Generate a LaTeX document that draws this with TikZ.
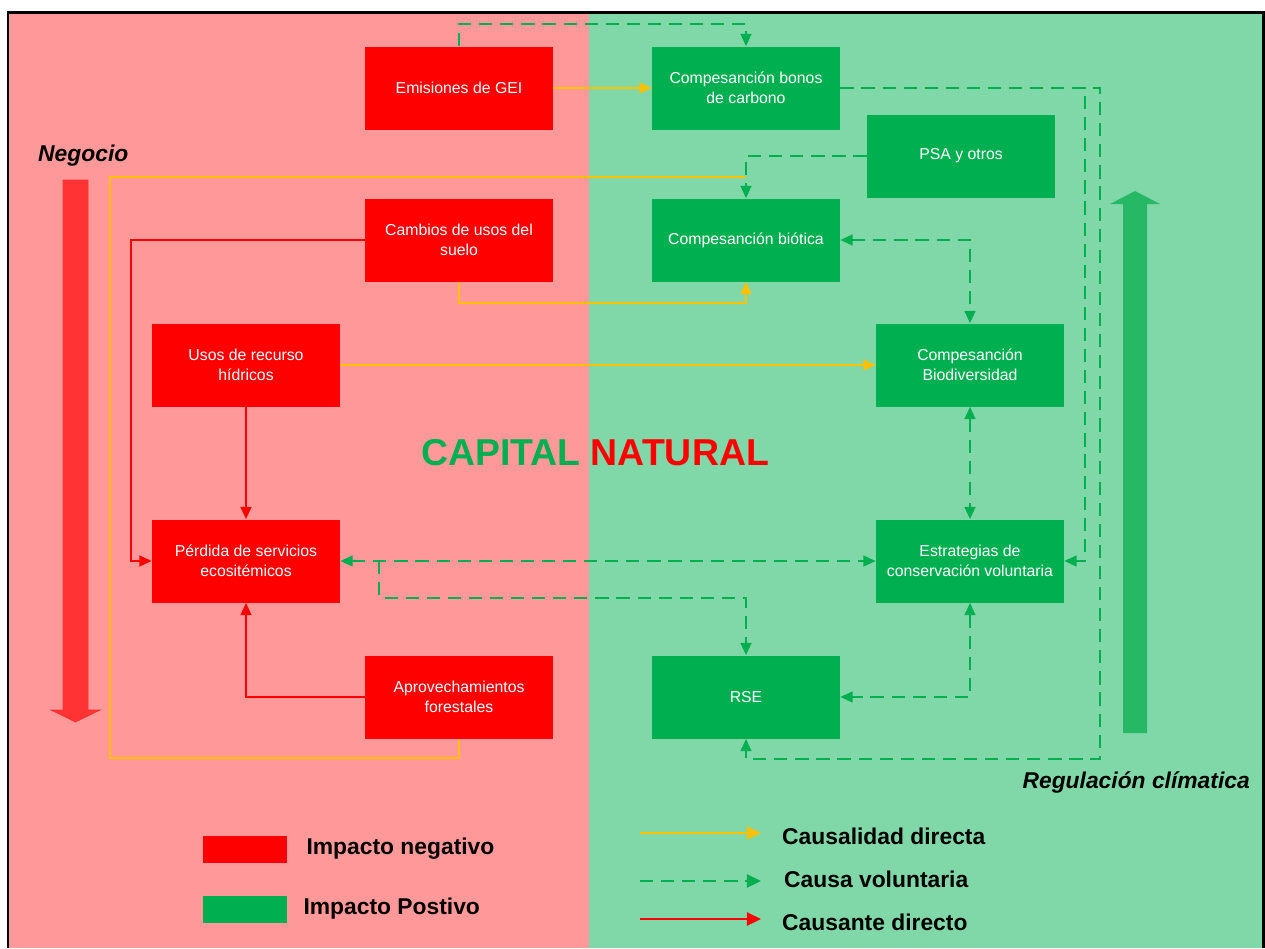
\documentclass[tikz,border=0pt]{standalone}
\usepackage{fontspec}
\setmainfont{Liberation Sans}
\usetikzlibrary{positioning, arrows.meta}

\definecolor{bgred}{RGB}{255,153,153}
\definecolor{bggreen}{RGB}{128,216,168}
\definecolor{boxred}{RGB}{255,0,0}
\definecolor{boxgreen}{RGB}{0,176,80}
\definecolor{lineyellow}{RGB}{255,192,0}
\definecolor{arrowred}{RGB}{255,51,51}
\definecolor{arrowgreen}{RGB}{38,184,100}

\begin{document}
\begin{tikzpicture}[x=0.02cm, y=-0.02cm,
    box/.style={minimum width=3.76cm, minimum height=1.66cm, align=center, text=white, inner sep=2pt, font=\fontsize{9}{11.3}\selectfont},
    negbox/.style={box, fill=boxred},
    posbox/.style={box, fill=boxgreen},
    tip/.tip={Triangle[length=7pt, width=6.2pt]},
    bigtip/.tip={Triangle[length=8pt, width=7.5pt]},
    causal/.style={lineyellow, line width=1pt, -tip},
    voluntary/.style={boxgreen, line width=1pt, dash pattern=on 7.5pt off 4.5pt, -tip},
    cause/.style={boxred, line width=1pt, -tip},
    both/.style={tip-tip},
    legtext/.style={anchor=west, font=\bfseries\fontsize{13}{15}\selectfont},
    sidetext/.style={font=\bfseries\itshape\fontsize{13}{15}\selectfont}]
    \useasboundingbox (0,0) rectangle (1265,948);

    % Background halves
    \fill[bgred] (8,12) rectangle (589,948);
    \fill[bggreen] (589,12) rectangle (1263,948);
    \draw[line width=1.7pt] (8,948) -- (8,12) -- (1263,12) -- (1263,948);

    % Side arrows
    \filldraw[fill=arrowred, draw=boxred!80, line width=0.4pt] (63,180) -- (88,180) -- (88,710) -- (100,710) -- (75.5,722) -- (51,710) -- (63,710) -- cycle;
    \fill[arrowgreen] (1123,733) -- (1147,733) -- (1147,204) -- (1160,204) -- (1135,191) -- (1110,204) -- (1123,204) -- cycle;
    \node[sidetext, anchor=west] (negocio) at (32,156) {Negocio};
    \node[sidetext, anchor=east] (regula) at (1256,782) {Regulación clímatica};

    % Boxes
    \node[negbox] (emis) at (459,88) {Emisiones de GEI};
    \node[posbox] (bonos) at (746,88) {Compesanción bonos\\de carbono};
    \node[posbox] (psa) at (961,156) {PSA y otros};
    \node[negbox] (cambios) at (459,240) {Cambios de usos del\\suelo};
    \node[posbox] (biot) at (746,240) {Compesanción biótica};
    \node[negbox] (usos) at (246,365) {Usos de recurso\\hídricos};
    \node[posbox] (biodiv) at (970,365) {Compesanción\\Biodiversidad};
    \node[negbox] (perd) at (246,561) {Pérdida de servicios\\ecositémicos};
    \node[posbox] (estr) at (970,561) {Estrategias de\\conservación voluntaria};
    \node[negbox] (aprov) at (459,697) {Aprovechamientos\\forestales};
    \node[posbox] (rse) at (746,697) {RSE};

    \node[font=\bfseries\fontsize{21.3}{25}\selectfont] (title) at (595,453) {\textcolor{boxgreen}{CAPITAL} \textcolor{boxred}{NATURAL}};

    % Causalidad directa
    \coordinate (yjoin) at (746,177);
    \draw[causal] (emis) -- (bonos);
    \draw[causal] (cambios.south) -- ++(0,21) -| (biot.south);
    \draw[causal] (usos) -- (biodiv);
    \draw[causal, -] (aprov.south) |- (110,758) |- (yjoin);

    % Causante directo
    \draw[cause] (cambios.west) -- ++(-234,0) |- (perd.west);
    \draw[cause] (usos) -- (perd);
    \draw[cause] (aprov.west) -| (perd.south);

    % Causa voluntaria
    \draw[voluntary] (emis.north) -- ++(0,-22) -| (bonos.north);
    \draw[voluntary] (bonos.east) -- ++(245,0) |- (estr.east);
    \draw[voluntary] (bonos.east) -- ++(260,0) -- ++(0,671) -| (rse.south);
    \draw[voluntary] (psa.west) -| (biot.north);
    \draw[voluntary, both] (biot.east) -| (biodiv.north);
    \draw[voluntary, both] (biodiv) -- (estr);
    \draw[voluntary, both] (perd) -- (estr);
    \draw[voluntary] (perd.east) ++(39,0) -- ++(0,37) -| (rse.north);
    \draw[voluntary, both] (estr.south) |- (rse.east);

    % Legend
    \node[fill=boxred, minimum width=1.68cm, minimum height=0.54cm] (legneg) at (245,849) {};
    \node[legtext, right=0.26cm of legneg] (legnegtxt) {Impacto negativo};
    \node[fill=boxgreen, minimum width=1.68cm, minimum height=0.54cm] (legpos) at (245,909) {};
    \node[legtext, right=0.2cm of legpos] (legpostxt) {Impacto Postivo};

    \coordinate (la1) at (640,833); \coordinate (lb1) at (761,833);
    \coordinate (la2) at (640,881); \coordinate (lb2) at (761,881);
    \coordinate (la3) at (640,919); \coordinate (lb3) at (761,919);
    \draw[causal, -bigtip] (la1) -- (lb1);
    \draw[voluntary, -bigtip] (la2) -- (lb2);
    \draw[cause, -bigtip] (la3) -- (lb3);
    \node[legtext] (leg1) at (776,836) {Causalidad directa};
    \node[legtext] (leg2) at (778,879) {Causa voluntaria};
    \node[legtext] (leg3) at (776,922) {Causante directo};
\end{tikzpicture}
\end{document}
